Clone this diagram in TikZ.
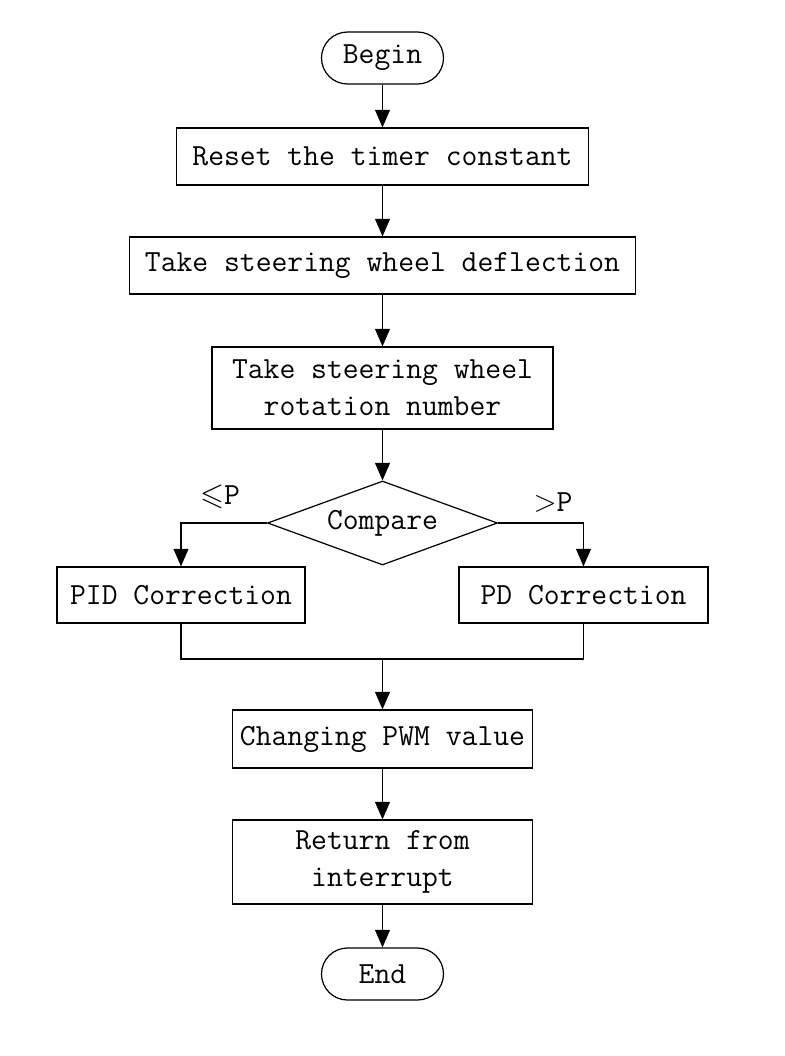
\documentclass[tikz,border=0pt]{standalone}
\usepackage{amsmath,amssymb}
\usepackage{tikz}
\usetikzlibrary{arrows.meta,positioning,shapes.geometric,calc}

\begin{document}
\begin{tikzpicture}[
    line width=0.7pt,
    every node/.style={font=\fontsize{17.5}{21}\selectfont\ttfamily},
    procbox/.style={draw, align=center, inner sep=0pt, minimum height=1.14cm},
    termbox/.style={draw, rounded corners=0.52cm, inner sep=0pt, minimum width=2.44cm, minimum height=1.04cm},
    decbox/.style={draw, diamond, aspect=2.74, inner sep=0pt, minimum width=4.6cm, minimum height=1.68cm},
    flow/.style={-{Triangle[length=10pt,width=8.5pt]}}
  ]
  \useasboundingbox (0,0) rectangle (15.7,-21.12);

  % start
  \node[termbox] (begin) at (7.65,-1.16) {Begin};
  \node[procbox, minimum width=8.24cm] (reset) at (7.65,-3.13) {Reset the timer constant};
  \node[procbox, minimum width=10.12cm] (deflect) at (7.65,-5.31) {Take steering wheel deflection};
  \node[procbox, minimum width=6.82cm, minimum height=1.64cm] (rotation) at (7.65,-7.76) {Take steering wheel\\rotation number};

  % decision
  \node[decbox] (compare) at (7.65,-10.46) {Compare};
  \node (lesslbl) at (4.4,-9.94) {$\leqslant$P};
  \node (morelbl) at (11.06,-10.06) {$>$P};

  \node[procbox, minimum width=4.96cm, minimum height=1.12cm] (pid) at (3.62,-11.9) {PID Correction};
  \node[procbox, minimum width=4.98cm, minimum height=1.12cm] (pd) at (11.67,-11.9) {PD Correction};
  \coordinate (join) at (7.65,-13.18);

  % end part
  \node[procbox, minimum width=6.0cm, minimum height=1.16cm] (pwm) at (7.65,-14.78) {Changing PWM value};
  \node[procbox, minimum width=6.0cm, minimum height=1.68cm] (ret) at (7.65,-17.24) {Return from\\interrupt};
  \node[termbox] (end) at (7.65,-19.48) {End};

  \draw[flow] (begin) -- (reset);
  \draw[flow] (reset) -- (deflect);
  \draw[flow] (deflect) -- (rotation);
  \draw[flow] (rotation) -- (compare);
  \draw[flow] (compare.west) -| (pid.north);
  \draw[flow] (compare.east) -| (pd.north);
  \draw (pid.south) |- (join) -| (pd.south);
  \draw[flow] (join) -- (pwm);
  \draw[flow] (pwm) -- (ret);
  \draw[flow] (ret) -- (end);
\end{tikzpicture}
\end{document}
